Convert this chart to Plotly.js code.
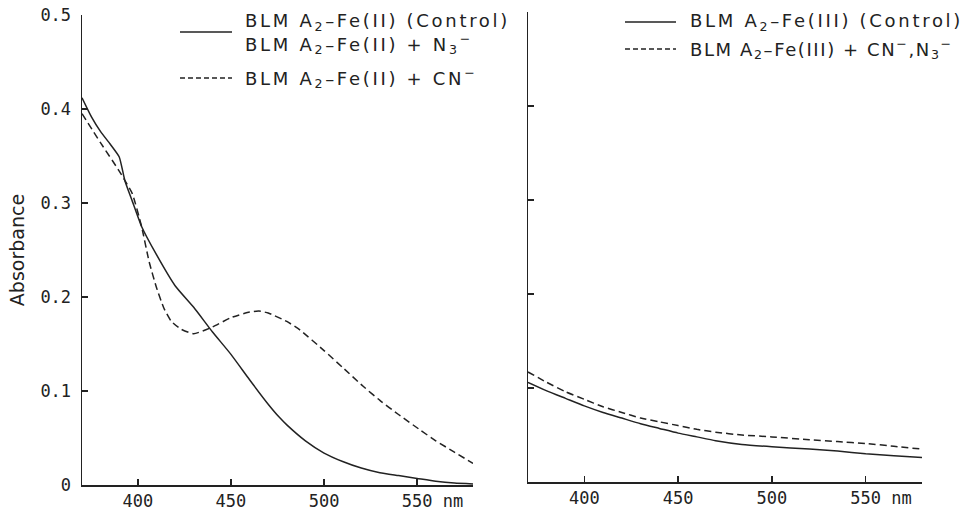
<!DOCTYPE html>
<html><head><meta charset="utf-8">
<script src="https://cdn.plot.ly/plotly-3.0.1.min.js"></script>
<style>
html,body{margin:0;padding:0;background:#fff;}
#chart{width:971px;height:513px;}
#chart text.annotation-text{letter-spacing:2.7px;}
#chart g.annotation[data-index="4"] text.annotation-text{letter-spacing:1.6px;}
</style></head><body><div id="chart"></div><script>
// Left panel: BLM A2-Fe(II)
const nmFe2Control=[370,375,380,385,390,393,397,402,410,420,430,440,450,460,470,476,480,490,500,510,520,530,540,550,560,570,580];
const absFe2Control=[0.412,0.392,0.376,0.363,0.349,0.324,0.302,0.275,0.245,0.212,0.189,0.163,0.139,0.112,0.086,0.072,0.064,0.047,0.034,0.025,0.018,0.013,0.010,0.007,0.004,0.002,0.001];
const nmFe2CN=[370,380,390,393,397,402,406,410,414,418,423,430,440,450,460,465,470,480,487,500,510,521,530,540,552,560,570,580];
const absFe2CN=[0.395,0.364,0.334,0.324,0.310,0.275,0.238,0.210,0.188,0.174,0.166,0.161,0.168,0.178,0.184,0.185,0.183,0.174,0.165,0.143,0.125,0.105,0.090,0.075,0.058,0.047,0.035,0.023];
// Right panel: BLM A2-Fe(III)
const nmFe3=[370,380,390,400,410,420,430,440,450,460,470,484,500,520,535,550,565,580];
const absFe3Control=[0.106,0.097,0.089,0.081,0.074,0.068,0.062,0.057,0.052,0.048,0.044,0.040,0.0375,0.035,0.033,0.030,0.028,0.026];
const absFe3CNN3=[0.117,0.106,0.096,0.088,0.080,0.074,0.068,0.064,0.060,0.056,0.053,0.050,0.048,0.045,0.043,0.041,0.038,0.035];
// Tick labels
const xTickVals=[400,450,500,550];
const xTickText=['400','450','500','\u00a0\u00a0\u00a0550 nm'];
const yTickVals=[0,0.1,0.2,0.3,0.4,0.5];
const yTickText=['0','0.1','0.2','0.3','0.4','0.5'];
// Legend texts
const legendLeft=['BLM A<sub>2</sub>–Fe(II) (Control)','BLM A<sub>2</sub>–Fe(II) + N<sub>3</sub><sup>−</sup>','BLM A<sub>2</sub>–Fe(II) + CN<sup>−</sup>'];
const legendRight=['BLM A<sub>2</sub>–Fe(III) (Control)','BLM A<sub>2</sub>–Fe(III) + CN<sup>−</sup>,N<sub>3</sub><sup>−</sup>'];

const W=971,H=513;
const px=x=>x/W, py=y=>1-y/H;
const ink='#222';
const solid={color:ink,width:1.5,shape:'spline',smoothing:0.5};
const dashed={color:ink,width:1.5,shape:'spline',smoothing:0.5,dash:'7px,4px'};

const data=[
 {x:nmFe2Control,y:absFe2Control,xaxis:'x',yaxis:'y',mode:'lines',line:solid,showlegend:false},
 {x:nmFe2CN,y:absFe2CN,xaxis:'x',yaxis:'y',mode:'lines',line:dashed,showlegend:false},
 {x:nmFe3,y:absFe3Control,xaxis:'x2',yaxis:'y2',mode:'lines',line:solid,showlegend:false},
 {x:nmFe3,y:absFe3CNN3,xaxis:'x2',yaxis:'y2',mode:'lines',line:dashed,showlegend:false}
];
const tickFont={family:'DejaVu Sans Mono',size:17,color:ink};
const xCommon={range:[370,580],showline:true,linecolor:ink,linewidth:1.5,ticks:'inside',ticklen:6,tickwidth:1.5,tickcolor:ink,
  tickvals:xTickVals,ticktext:xTickText,tickfont:tickFont,showgrid:false,zeroline:false,fixedrange:true};
const yCommon={range:[0,0.5],showline:true,linecolor:ink,linewidth:1.5,ticks:'inside',ticklen:6,tickwidth:1.5,tickcolor:ink,
  tickvals:yTickVals,ticktext:yTickText,tickfont:tickFont,showgrid:false,zeroline:false,fixedrange:true};
const legFont={family:'DejaVu Sans',size:18,color:ink};
const ann=(t,x,y)=>({text:t,xref:'paper',yref:'paper',x:px(x),y:py(y),xanchor:'left',yanchor:'middle',align:'left',showarrow:false,font:legFont});
const seg=(x0,x1,y,d)=>({type:'line',xref:'paper',yref:'paper',x0:px(x0),x1:px(x1),y0:py(y),y1:py(y),line:{color:ink,width:1.5,dash:d}});
const layout={
 width:W,height:H,margin:{l:0,r:0,t:0,b:0},paper_bgcolor:'#fff',plot_bgcolor:'#fff',showlegend:false,
 xaxis:Object.assign({},xCommon,{domain:[px(82),px(473)],anchor:'y'}),
 yaxis:Object.assign({},yCommon,{domain:[py(485),py(15)],anchor:'x',ticklabelstandoff:6,
   title:{text:'Absorbance',font:{family:'DejaVu Sans',size:19,color:ink},standoff:10}}),
 xaxis2:Object.assign({},xCommon,{domain:[px(528),px(922)],anchor:'y2'}),
 yaxis2:Object.assign({},yCommon,{domain:[py(482),py(12)],anchor:'x2',showticklabels:false}),
 shapes:[seg(180,232,32,'solid'),seg(180,232,78,'5px,3px'),seg(625,676,22,'solid'),seg(625,676,49,'5px,3px')],
 annotations:[ann(legendLeft[0],243,22),ann(legendLeft[1],243,44),ann(legendLeft[2],243,78),
   ann(legendRight[0],688,22),ann(legendRight[1],688,49)]
};
Plotly.newPlot('chart',data,layout,{displayModeBar:false,staticPlot:true});
</script></body></html>
